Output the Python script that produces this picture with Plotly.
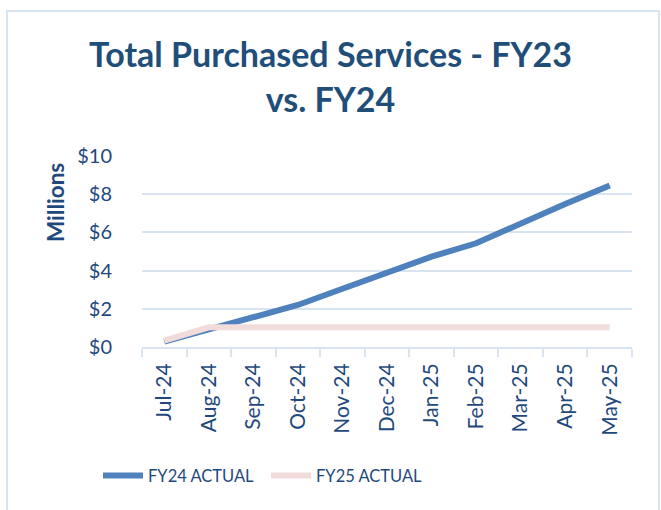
import plotly.graph_objects as go

months = ["Jul-24", "Aug-24", "Sep-24", "Oct-24", "Nov-24", "Dec-24",
          "Jan-25", "Feb-25", "Mar-25", "Apr-25", "May-25"]
fy24_actual = [0.28, 0.93, 1.5, 2.2, 3.05, 3.86, 4.73, 5.43, 6.47, 7.49, 8.45]
fy25_actual = [0.33, 1.03, 1.03, 1.03, 1.03, 1.03, 1.03, 1.03, 1.03, 1.03, 1.03]

DARK_BLUE = "#1F497D"
GRID = "#D9E4F2"
FONT = "Lato"

fig = go.Figure()
fig.add_trace(go.Scatter(
    x=months, y=fy24_actual, name="FY24 ACTUAL", mode="lines",
    line=dict(color="#4F81BD", width=6),
))
fig.add_trace(go.Scatter(
    x=months, y=fy25_actual, name="FY25 ACTUAL", mode="lines",
    line=dict(color="#F2DCDB", width=6),
))

fig.update_layout(
    width=661, height=510,
    paper_bgcolor="white", plot_bgcolor="white",
    font=dict(family=FONT, color=DARK_BLUE, size=17),
    margin=dict(l=142, r=29, t=156, b=163),
    title=dict(
        text="<b>Total Purchased Services - FY23<br>vs. FY24</b>",
        x=0.5, xanchor="center", y=0.868, yanchor="top",
        font=dict(family=FONT, size=34, color="#1F4E79"),
    ),
    showlegend=True,
    legend=dict(
        orientation="h", x=266 / 661, xanchor="center", xref="container",
        y=0.067, yanchor="middle", yref="container",
        font=dict(size=16.5, color=DARK_BLUE),
        itemwidth=40, entrywidth=113,
    ),
    shapes=[dict(
        type="rect", xref="paper", yref="paper",
        x0=-0.2755, x1=1.055, y0=-0.9, y1=1.759,
        line=dict(color=GRID, width=2), layer="below",
    )],
    annotations=[dict(
        text="<b>Millions</b>", xref="paper", yref="paper",
        x=(55 - 142) / 490, y=(347 - 203) / 191,
        xanchor="center", yanchor="middle",
        textangle=-90, showarrow=False,
        font=dict(size=22.5, color=DARK_BLUE),
    )],
)

fig.update_xaxes(
    range=[-0.5, 10.5],
    showline=True, linecolor=GRID, linewidth=2,
    ticks="outside", tickson="boundaries", ticklen=8, tickcolor=GRID, tickwidth=2,
    tickangle=-90, showgrid=False, ticklabelstandoff=6,
    tickfont=dict(size=21, color=DARK_BLUE),
)
fig.update_yaxes(
    range=[0, 10], dtick=2, tickprefix="$",
    showgrid=True, gridcolor=GRID, gridwidth=2,
    zeroline=False, showline=False,
    ticklabelstandoff=29,
    tickfont=dict(size=20, color=DARK_BLUE),
)

fig.write_html("out.html", config={"displayModeBar": False},
               post_script="document.body.style.margin='0';")
